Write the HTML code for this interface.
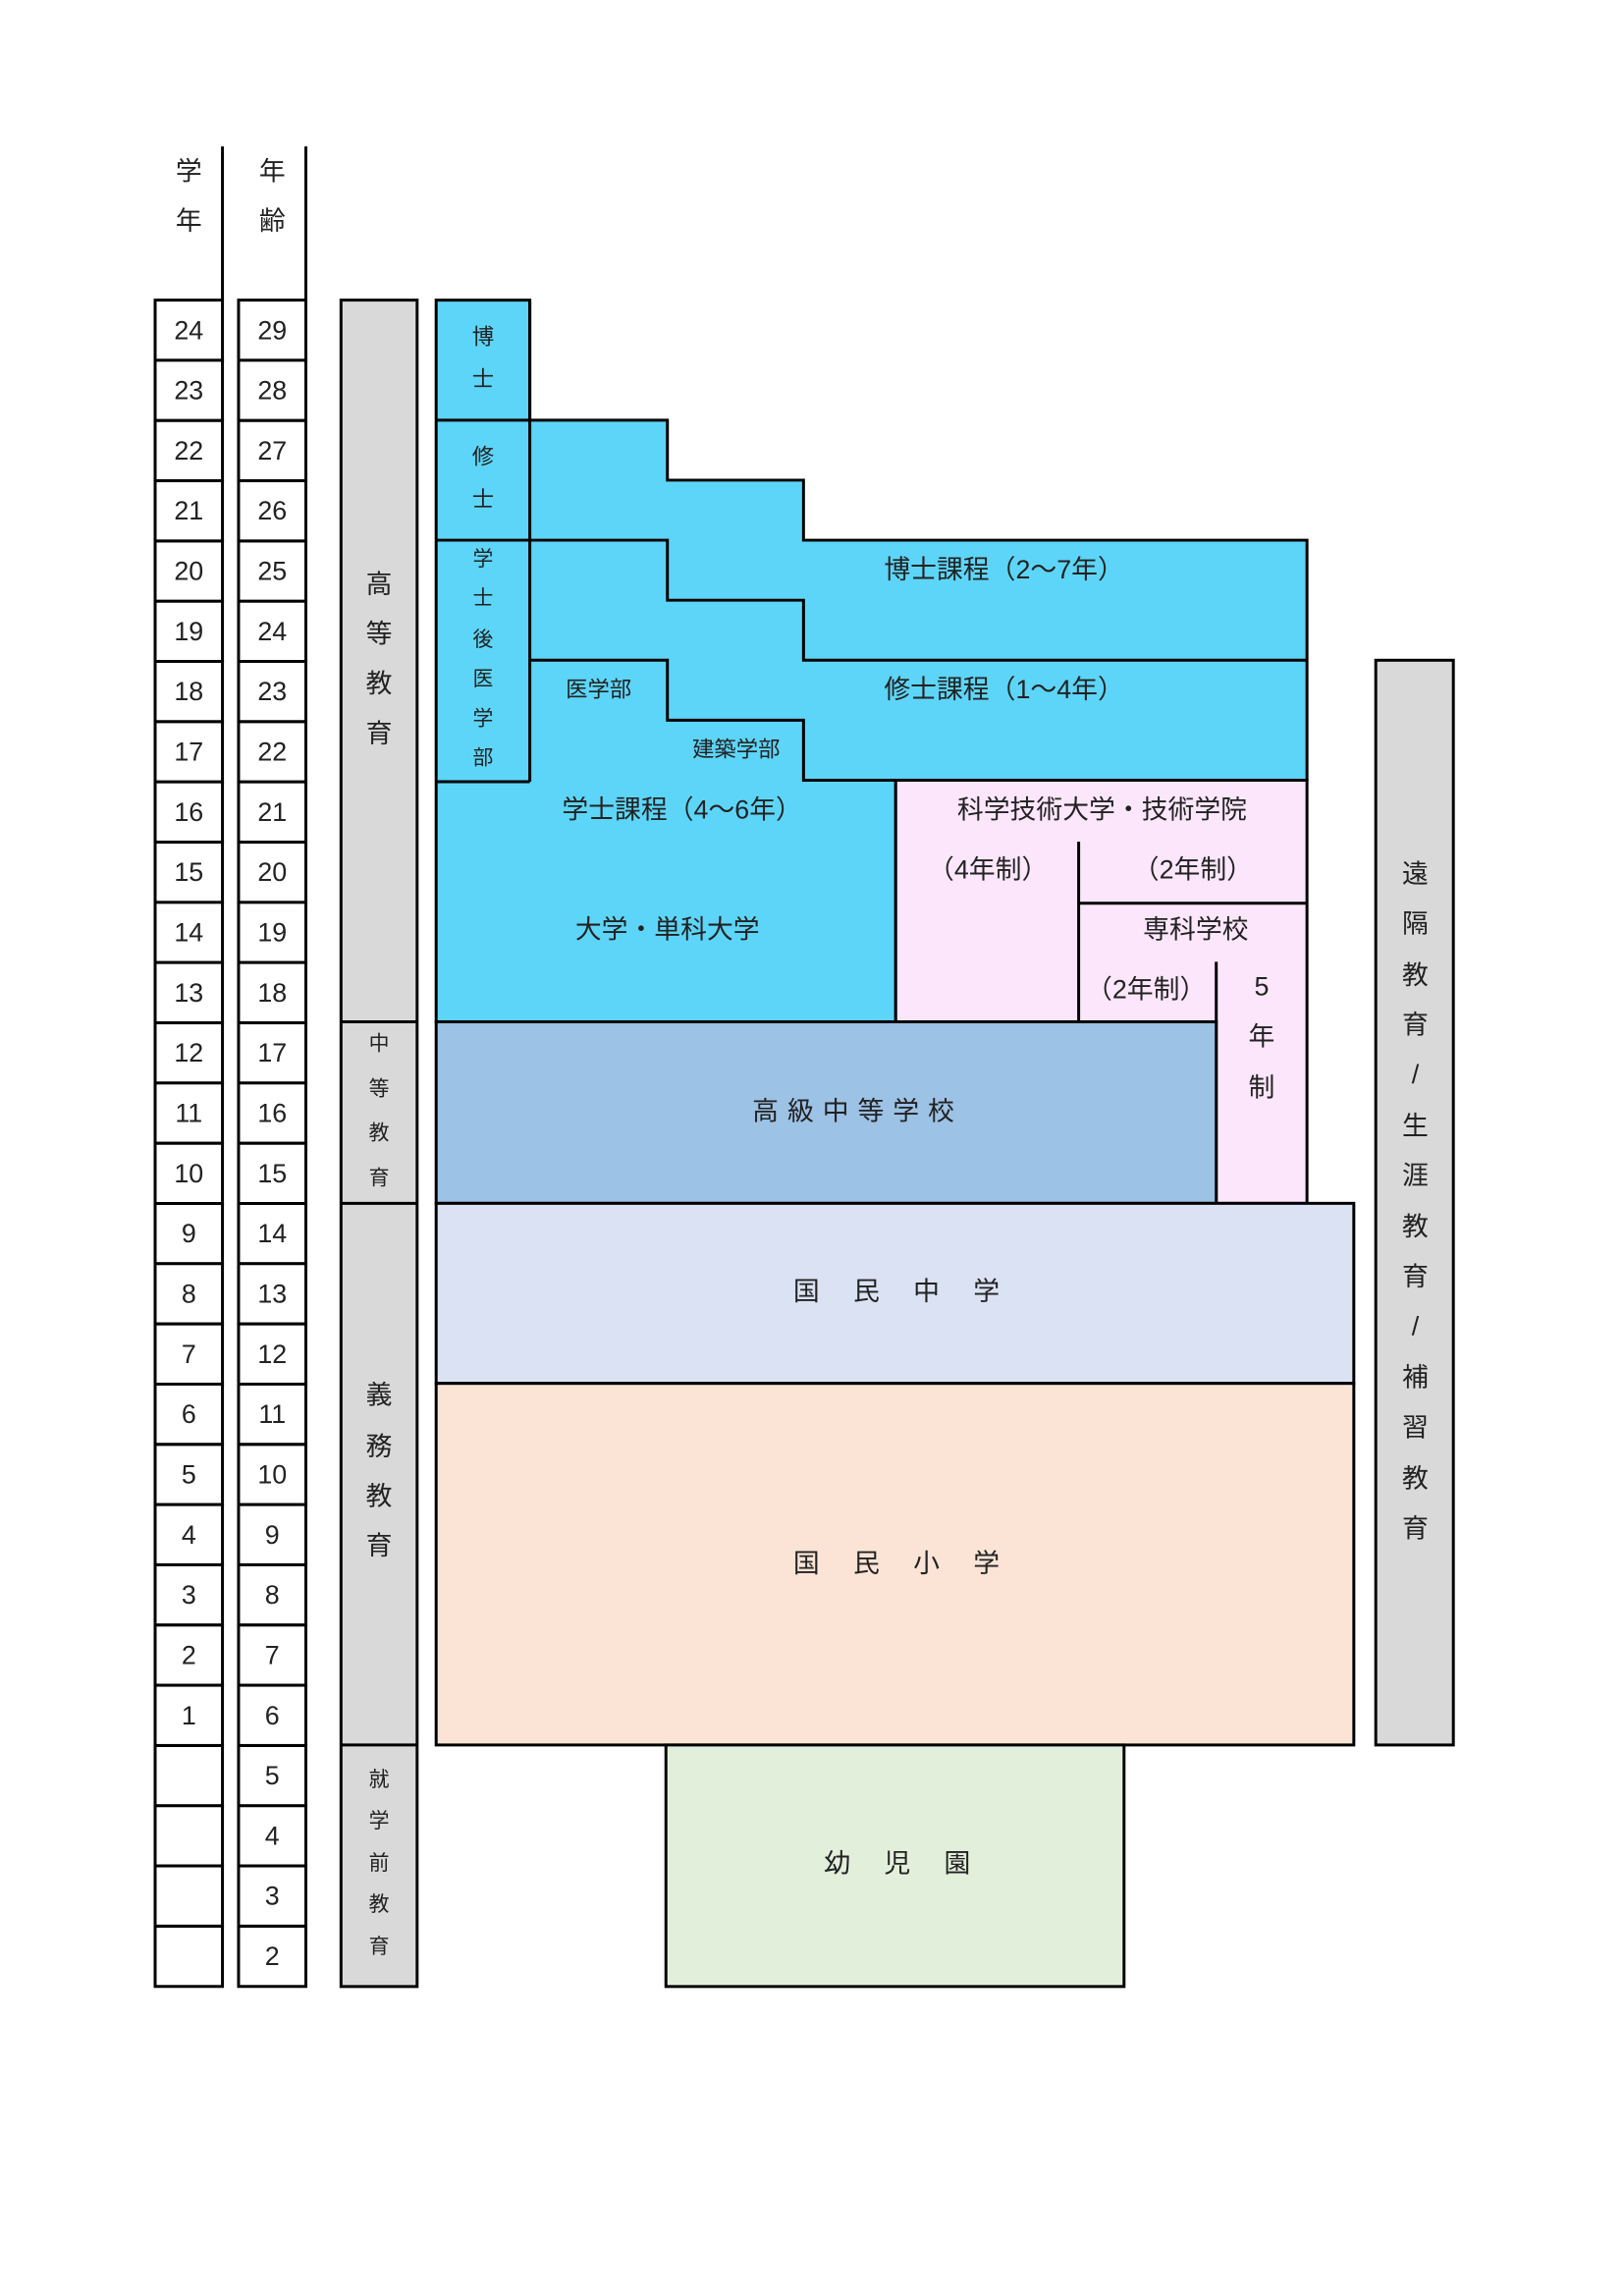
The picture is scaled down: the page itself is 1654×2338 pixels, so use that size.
<!DOCTYPE html>
<html><head><meta charset="utf-8"><style>
html,body{margin:0;padding:0;background:#fff;}
svg{display:block}
text{font-family:"Liberation Sans","Noto Sans CJK JP",sans-serif;fill:#222;text-anchor:middle;dominant-baseline:central}
</style></head><body>
<svg width="1654" height="2338" viewBox="0 0 1109.6 1568.4" preserveAspectRatio="none" xmlns="http://www.w3.org/2000/svg">
<g stroke="#000" stroke-width="2">
<line x1="152" y1="100" x2="152" y2="205"/>
<line x1="209" y1="100" x2="209" y2="205"/>
<rect x="233" y="205" width="52" height="1152" fill="#d9d9d9"/>
<line x1="233" y1="698" x2="285" y2="698"/>
<line x1="233" y1="822" x2="285" y2="822"/>
<line x1="233" y1="1192" x2="285" y2="1192"/>
<rect x="940" y="451" width="53" height="741" fill="#d9d9d9"/>
<path d="M298 205 H362 V287 H456 V328 H549 V369 H893 V533 H612 V698 H298 Z" fill="#5dd5f8"/>
<path d="M362 205 V534 M298 287 H362 M298 369 H362 M298 534 H362" fill="none"/>
<path d="M362 369 H456 V410 H549 V451 H893" fill="none"/>
<path d="M362 451 H456 V492 H549 V533 H893" fill="none"/>
<path d="M612 533 H893 V822 H831 V698 H612 Z" fill="#fce6fb"/>
<line x1="737" y1="575" x2="737" y2="698"/>
<line x1="737" y1="617" x2="893" y2="617"/>
<line x1="831" y1="657" x2="831" y2="698"/>
<rect x="298" y="698" width="533" height="124" fill="#9cc2e5"/>
<rect x="298" y="822" width="627" height="123" fill="#dae2f3"/>
<rect x="298" y="945" width="627" height="247" fill="#fbe4d6"/>
<rect x="455" y="1192" width="313" height="165" fill="#e2efdb"/>
<g fill="#fff">
<rect x="106" y="205.0" width="46" height="41.14"/><rect x="163" y="205.0" width="46" height="41.14"/>
<rect x="106" y="246.1" width="46" height="41.14"/><rect x="163" y="246.1" width="46" height="41.14"/>
<rect x="106" y="287.3" width="46" height="41.14"/><rect x="163" y="287.3" width="46" height="41.14"/>
<rect x="106" y="328.4" width="46" height="41.14"/><rect x="163" y="328.4" width="46" height="41.14"/>
<rect x="106" y="369.6" width="46" height="41.14"/><rect x="163" y="369.6" width="46" height="41.14"/>
<rect x="106" y="410.7" width="46" height="41.14"/><rect x="163" y="410.7" width="46" height="41.14"/>
<rect x="106" y="451.8" width="46" height="41.14"/><rect x="163" y="451.8" width="46" height="41.14"/>
<rect x="106" y="493.0" width="46" height="41.14"/><rect x="163" y="493.0" width="46" height="41.14"/>
<rect x="106" y="534.1" width="46" height="41.14"/><rect x="163" y="534.1" width="46" height="41.14"/>
<rect x="106" y="575.3" width="46" height="41.14"/><rect x="163" y="575.3" width="46" height="41.14"/>
<rect x="106" y="616.4" width="46" height="41.14"/><rect x="163" y="616.4" width="46" height="41.14"/>
<rect x="106" y="657.5" width="46" height="41.14"/><rect x="163" y="657.5" width="46" height="41.14"/>
<rect x="106" y="698.7" width="46" height="41.14"/><rect x="163" y="698.7" width="46" height="41.14"/>
<rect x="106" y="739.8" width="46" height="41.14"/><rect x="163" y="739.8" width="46" height="41.14"/>
<rect x="106" y="781.0" width="46" height="41.14"/><rect x="163" y="781.0" width="46" height="41.14"/>
<rect x="106" y="822.1" width="46" height="41.14"/><rect x="163" y="822.1" width="46" height="41.14"/>
<rect x="106" y="863.2" width="46" height="41.14"/><rect x="163" y="863.2" width="46" height="41.14"/>
<rect x="106" y="904.4" width="46" height="41.14"/><rect x="163" y="904.4" width="46" height="41.14"/>
<rect x="106" y="945.5" width="46" height="41.14"/><rect x="163" y="945.5" width="46" height="41.14"/>
<rect x="106" y="986.7" width="46" height="41.14"/><rect x="163" y="986.7" width="46" height="41.14"/>
<rect x="106" y="1027.8" width="46" height="41.14"/><rect x="163" y="1027.8" width="46" height="41.14"/>
<rect x="106" y="1068.9" width="46" height="41.14"/><rect x="163" y="1068.9" width="46" height="41.14"/>
<rect x="106" y="1110.1" width="46" height="41.14"/><rect x="163" y="1110.1" width="46" height="41.14"/>
<rect x="106" y="1151.2" width="46" height="41.14"/><rect x="163" y="1151.2" width="46" height="41.14"/>
<rect x="106" y="1192.4" width="46" height="41.14"/><rect x="163" y="1192.4" width="46" height="41.14"/>
<rect x="106" y="1233.5" width="46" height="41.14"/><rect x="163" y="1233.5" width="46" height="41.14"/>
<rect x="106" y="1274.6" width="46" height="41.14"/><rect x="163" y="1274.6" width="46" height="41.14"/>
<rect x="106" y="1315.8" width="46" height="41.14"/><rect x="163" y="1315.8" width="46" height="41.14"/>
</g>
</g>
<g font-size="18">
<text x="129" y="225.6">24</text><text x="186" y="225.6">29</text>
<text x="129" y="266.7">23</text><text x="186" y="266.7">28</text>
<text x="129" y="307.9">22</text><text x="186" y="307.9">27</text>
<text x="129" y="349.0">21</text><text x="186" y="349.0">26</text>
<text x="129" y="390.1">20</text><text x="186" y="390.1">25</text>
<text x="129" y="431.3">19</text><text x="186" y="431.3">24</text>
<text x="129" y="472.4">18</text><text x="186" y="472.4">23</text>
<text x="129" y="513.6">17</text><text x="186" y="513.6">22</text>
<text x="129" y="554.7">16</text><text x="186" y="554.7">21</text>
<text x="129" y="595.8">15</text><text x="186" y="595.8">20</text>
<text x="129" y="637.0">14</text><text x="186" y="637.0">19</text>
<text x="129" y="678.1">13</text><text x="186" y="678.1">18</text>
<text x="129" y="719.3">12</text><text x="186" y="719.3">17</text>
<text x="129" y="760.4">11</text><text x="186" y="760.4">16</text>
<text x="129" y="801.5">10</text><text x="186" y="801.5">15</text>
<text x="129" y="842.7">9</text><text x="186" y="842.7">14</text>
<text x="129" y="883.8">8</text><text x="186" y="883.8">13</text>
<text x="129" y="925.0">7</text><text x="186" y="925.0">12</text>
<text x="129" y="966.1">6</text><text x="186" y="966.1">11</text>
<text x="129" y="1007.2">5</text><text x="186" y="1007.2">10</text>
<text x="129" y="1048.4">4</text><text x="186" y="1048.4">9</text>
<text x="129" y="1089.5">3</text><text x="186" y="1089.5">8</text>
<text x="129" y="1130.7">2</text><text x="186" y="1130.7">7</text>
<text x="129" y="1171.8">1</text><text x="186" y="1171.8">6</text>
<text x="186" y="1212.9">5</text>
<text x="186" y="1254.1">4</text>
<text x="186" y="1295.2">3</text>
<text x="186" y="1336.4">2</text>
<text x="129" y="117">学</text><text x="129" y="151">年</text>
<text x="186" y="117">年</text><text x="186" y="151">齢</text>
<text x="259" y="399">高</text><text x="259" y="433">等</text><text x="259" y="467">教</text><text x="259" y="501">育</text>
<text x="259" y="953">義</text><text x="259" y="988">務</text><text x="259" y="1022">教</text><text x="259" y="1056">育</text>
<text x="967" y="597">遠</text><text x="967" y="631">隔</text><text x="967" y="666">教</text><text x="967" y="700">育</text><text x="967" y="734">/</text><text x="967" y="769">生</text><text x="967" y="803">涯</text><text x="967" y="838">教</text><text x="967" y="872">育</text><text x="967" y="906">/</text><text x="967" y="941">補</text><text x="967" y="975">習</text><text x="967" y="1010">教</text><text x="967" y="1044">育</text>
<text x="686" y="389">博士課程（2～7年）</text>
<text x="686" y="471">修士課程（1～4年）</text>
<text x="466" y="553">学士課程（4～6年）</text>
<text x="456" y="635">大学・単科大学</text>
<text x="753" y="553">科学技術大学・技術学院</text>
<text x="675" y="594">（4年制）</text>
<text x="815" y="594">（2年制）</text>
<text x="817" y="635">専科学校</text>
<text x="783" y="676">（2年制）</text>
<text x="862" y="674">5</text><text x="862" y="708">年</text><text x="862" y="743">制</text>
<text x="586" y="759" letter-spacing="6">高級中等学校</text>
<text x="551" y="882">国</text><text x="592" y="882">民</text><text x="633" y="882">中</text><text x="674" y="882">学</text>
<text x="551" y="1068">国</text><text x="592" y="1068">民</text><text x="633" y="1068">小</text><text x="674" y="1068">学</text>
<text x="572" y="1273">幼</text><text x="613" y="1273">児</text><text x="654" y="1273">園</text>
</g>
<g font-size="15">
<text x="330" y="230">博</text><text x="330" y="259">士</text>
<text x="330" y="312">修</text><text x="330" y="341">士</text>
<text x="409" y="471">医学部</text>
<text x="503" y="512">建築学部</text>
</g>
<g font-size="14">
<text x="330" y="382">学</text><text x="330" y="409">士</text><text x="330" y="437">後</text><text x="330" y="464">医</text><text x="330" y="491">学</text><text x="330" y="518">部</text>
<text x="259" y="713">中</text><text x="259" y="744">等</text><text x="259" y="774">教</text><text x="259" y="805">育</text>
<text x="259" y="1216">就</text><text x="259" y="1244">学</text><text x="259" y="1273">前</text><text x="259" y="1301">教</text><text x="259" y="1330">育</text>
</g>
</svg>
</body></html>
